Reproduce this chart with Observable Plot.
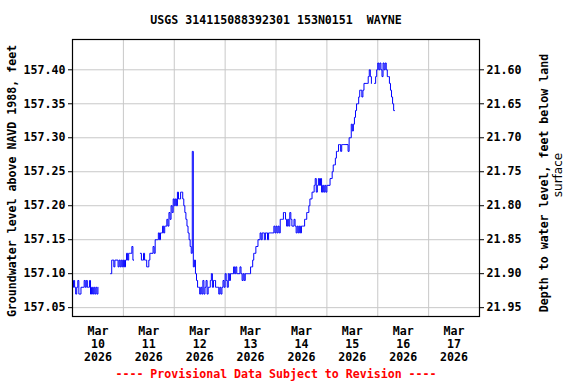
<!DOCTYPE html>
<html><head><meta charset="utf-8">
<script src="https://cdn.jsdelivr.net/npm/d3@7"></script>
<script src="https://cdn.jsdelivr.net/npm/@observablehq/plot@0.6"></script>
<style>body{margin:0;background:#fff} svg{display:block}</style>
</head><body><div id="chart"></div>
<script>
// ---- data (water level, hundredths of a foot above 157.00 ft, every 30 minutes from midnight) ----
const title = "USGS 314115088392301 153N0151\u00a0 WAYNE";
const leftLabel = "Groundwater level above NAVD 1988, feet";
const rightLabel1 = "Depth to water level, feet below land";
const rightLabel2 = "surface";
const caption = "---- Provisional Data Subject to Revision ----";
const baseLevel = 157.00;
const landSurface = 179.00;
const stepMinutes = 30;
const dayStarts = ["2026-03-10","2026-03-11","2026-03-12","2026-03-13","2026-03-14","2026-03-15","2026-03-16"];
const mar10 = [8,9,8,7,8,9,7,7,8,8,8,9,8,9,8,8,9,7,8,7,8,7,8,7,8,
  null,null,null,null,null,null,null,null,null,null,null,
  10,12,12,11,12,12,12,11,12,11,12,11];
const mar11 = [12,11,12,13,12,13,13,13,14,12,12,null,null,null,null,null,
  13,12,12,13,12,12,11,11,12,13,13,13,14,13,15,15,15,16,15,16,
  16,17,16,17,17,18,17,19,18,20,19,21];
const mar12 = [20,21,20,22,21,21,22,22,21,20,19,18,17,16,15,14,13,28,
  11,12,10,9,8,8,7,8,7,9,7,8,9,7,8,8,9,10,8,9,9,8,8,8,7,8,7,8,9,8];
const mar13 = [10,9,8,10,9,10,10,10,11,10,11,10,10,10,11,10,9,10,9,10,
  10,10,10,10,11,11,12,13,13,14,14,15,15,16,15,16,16,15,16,16,
  15,16,16,16,16,16,17,16];
const mar14 = [17,16,17,16,18,18,18,19,19,18,17,18,17,19,18,17,17,18,17,16,
  17,16,17,16,17,17,17,18,18,19,19,20,21,21,22,22,23,24,22,23,
  24,23,24,22,23,22,23,22];
const mar15 = [23,23,23,24,24,25,26,26,27,28,28,29,29,28,29,29,29,29,29,29,
  28,30,30,32,31,32,33,34,35,35,36,37,37,36,37,38,38,38,38,39,
  40,39,38,null,null,38,39,40];
const mar16 = [41,40,41,40,39,41,40,41,40,39,39,38,37,36,35,34,34];
const dayValues = [mar10, mar11, mar12, mar13, mar14, mar15, mar16];

const levelTicks = [157.05,157.10,157.15,157.20,157.25,157.30,157.35,157.40];
const depthTicks = [21.95,21.90,21.85,21.80,21.75,21.70,21.65,21.60];
const dayLabels = ["10","11","12","13","14","15","16","17"];
const monthLabel = "Mar";
const yearLabel = "2026";

// ---- build table ----
const readings = [];
dayStarts.forEach((ds, k) => {
  const t0 = new Date(ds + "T00:00:00Z").getTime();
  dayValues[k].forEach((v, j) => {
    readings.push({time: new Date(t0 + j * stepMinutes * 60000),
                   level: v == null ? NaN : +(baseLevel + v / 100).toFixed(2)});
  });
});
const labelDates = dayLabels.map(d => new Date(`2026-03-${d}T12:00:00Z`));
const gridDates = dayLabels.slice(1).map(d => new Date(`2026-03-${d}T00:00:00Z`));
const depthAsLevel = depthTicks.map(d => +(landSurface - d).toFixed(2));

const font = "DejaVu Sans Mono";
const fs = 11.6;

const chart = Plot.plot({
  width: 576, height: 384,
  marginTop: 39, marginBottom: 68, marginLeft: 72, marginRight: 97,
  style: {fontFamily: font, fontSize: fs + "px", background: "#fff", color: "#000"},
  x: {type: "utc", domain: [new Date("2026-03-10T00:00:00Z"), new Date("2026-03-18T00:00:00Z")], axis: null},
  y: {domain: [157.037, 157.4446], axis: null},
  marks: [
    Plot.gridX(gridDates, {stroke: "#c8c8c8", strokeOpacity: 1, strokeWidth: 1}),
    Plot.gridY(levelTicks, {stroke: "#c8c8c8", strokeOpacity: 1, strokeWidth: 1}),
    Plot.line(readings, {x: "time", y: "level", curve: "step-after", stroke: "#0000ff", strokeWidth: 1}),
    Plot.frame({stroke: "#000", strokeWidth: 1.2}),
    Plot.axisY({anchor: "left", ticks: levelTicks, tickFormat: d => d.toFixed(2), tickSize: 4, tickPadding: 3,
                label: null, fontWeight: "bold", fontSize: fs}),
    Plot.axisY({anchor: "right", ticks: depthAsLevel, tickFormat: d => (landSurface - d).toFixed(2), tickSize: 4, tickPadding: 3,
                label: null, fontWeight: "bold", fontSize: fs}),
    Plot.text(labelDates, {x: d => d, text: (d, i) => `${monthLabel}\n${dayLabels[i]}\n${yearLabel}`,
                frameAnchor: "bottom", lineAnchor: "top", dy: 9, lineHeight: 1.12,
                fontWeight: "bold", fontSize: fs, fill: "#000"}),
    Plot.text([title], {frameAnchor: "top", dy: -19, lineAnchor: "middle", fontWeight: "bold", fontSize: fs, fill: "#000"}),
    Plot.text([caption], {frameAnchor: "bottom", dy: 58, lineAnchor: "middle", fontWeight: "bold", fontSize: fs, fill: "#ff0000"}),
    Plot.text([leftLabel], {frameAnchor: "left", dx: -60, dy: 3, rotate: -90, textAnchor: "middle", lineAnchor: "middle", fontWeight: "bold", fontSize: fs, fill: "#000"}),
    Plot.text([rightLabel1], {frameAnchor: "right", dx: 65, dy: 5, rotate: -90, textAnchor: "middle", lineAnchor: "middle", fontWeight: "bold", fontSize: fs, fill: "#000"}),
    Plot.text([rightLabel2], {frameAnchor: "right", dx: 79, dy: -3, rotate: -90, textAnchor: "middle", lineAnchor: "middle", fontWeight: "normal", fontSize: 12, fontFamily: "DejaVu Sans", fill: "#000"})
  ]
});
document.getElementById("chart").appendChild(chart);
</script></body></html>
